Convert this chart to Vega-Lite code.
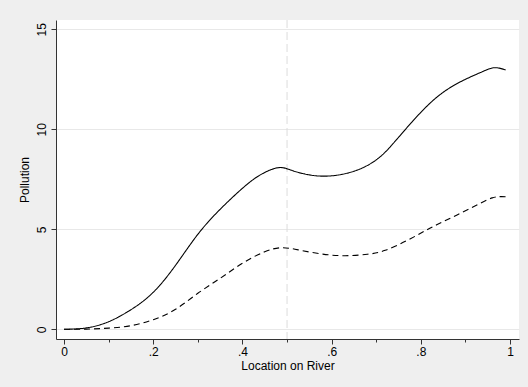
{
  "$schema": "https://vega.github.io/schema/vega-lite/v6.json",
  "width": 463,
  "height": 319,
  "autosize": "none",
  "padding": {"left": 56, "top": 20, "right": 9, "bottom": 48},
  "background": "#efefef",
  "config": {
    "view": {"fill": "white", "stroke": null},
    "font": "Liberation Sans"
  },
  "layer": [
    {
      "data": {"values": [{"x": 0.5}]},
      "mark": {"type": "rule", "color": "#dcdcdc", "strokeDash": [8, 4], "strokeWidth": 1},
      "encoding": {
        "x": {"field": "x", "type": "quantitative", "scale": {"domain": [-0.018, 1.02], "nice": false, "zero": false}}
      }
    },
    {
      "data": {
        "values": [
          {"loc": 0.0, "pollution": 0.0, "series": "upper"},
          {"loc": 0.05, "pollution": 0.07, "series": "upper"},
          {"loc": 0.1, "pollution": 0.38, "series": "upper"},
          {"loc": 0.15, "pollution": 0.98, "series": "upper"},
          {"loc": 0.2, "pollution": 1.85, "series": "upper"},
          {"loc": 0.25, "pollution": 3.2, "series": "upper"},
          {"loc": 0.3, "pollution": 4.75, "series": "upper"},
          {"loc": 0.35, "pollution": 6.0, "series": "upper"},
          {"loc": 0.4, "pollution": 7.05, "series": "upper"},
          {"loc": 0.44, "pollution": 7.72, "series": "upper"},
          {"loc": 0.48, "pollution": 8.08, "series": "upper"},
          {"loc": 0.51, "pollution": 7.95, "series": "upper"},
          {"loc": 0.55, "pollution": 7.72, "series": "upper"},
          {"loc": 0.59, "pollution": 7.66, "series": "upper"},
          {"loc": 0.63, "pollution": 7.78, "series": "upper"},
          {"loc": 0.67, "pollution": 8.08, "series": "upper"},
          {"loc": 0.71, "pollution": 8.65, "series": "upper"},
          {"loc": 0.75, "pollution": 9.6, "series": "upper"},
          {"loc": 0.8, "pollution": 10.85, "series": "upper"},
          {"loc": 0.85, "pollution": 11.85, "series": "upper"},
          {"loc": 0.9, "pollution": 12.5, "series": "upper"},
          {"loc": 0.94, "pollution": 12.9, "series": "upper"},
          {"loc": 0.965, "pollution": 13.08, "series": "upper"},
          {"loc": 0.99, "pollution": 12.97, "series": "upper"},
          {"loc": 0.0, "pollution": 0.0, "series": "lower"},
          {"loc": 0.05, "pollution": 0.01, "series": "lower"},
          {"loc": 0.1, "pollution": 0.06, "series": "lower"},
          {"loc": 0.15, "pollution": 0.18, "series": "lower"},
          {"loc": 0.2, "pollution": 0.48, "series": "lower"},
          {"loc": 0.25, "pollution": 1.0, "series": "lower"},
          {"loc": 0.3, "pollution": 1.8, "series": "lower"},
          {"loc": 0.35, "pollution": 2.55, "series": "lower"},
          {"loc": 0.4, "pollution": 3.3, "series": "lower"},
          {"loc": 0.45, "pollution": 3.88, "series": "lower"},
          {"loc": 0.49, "pollution": 4.08, "series": "lower"},
          {"loc": 0.53, "pollution": 3.95, "series": "lower"},
          {"loc": 0.58, "pollution": 3.76, "series": "lower"},
          {"loc": 0.63, "pollution": 3.68, "series": "lower"},
          {"loc": 0.68, "pollution": 3.75, "series": "lower"},
          {"loc": 0.72, "pollution": 3.95, "series": "lower"},
          {"loc": 0.77, "pollution": 4.45, "series": "lower"},
          {"loc": 0.82, "pollution": 5.05, "series": "lower"},
          {"loc": 0.87, "pollution": 5.6, "series": "lower"},
          {"loc": 0.92, "pollution": 6.15, "series": "lower"},
          {"loc": 0.96, "pollution": 6.57, "series": "lower"},
          {"loc": 0.99, "pollution": 6.63, "series": "lower"}
        ]
      },
      "mark": {"type": "line", "interpolate": "natural", "color": "black", "strokeWidth": 1.1},
      "encoding": {
        "x": {
          "field": "loc",
          "type": "quantitative",
          "scale": {"domain": [-0.018, 1.02], "nice": false, "zero": false},
          "axis": {
            "title": "Location on River",
            "values": [0, 0.1, 0.2, 0.3, 0.4, 0.5, 0.6, 0.7, 0.8, 0.9, 1],
            "labelExpr": "round(datum.value*10)%2==1 ? '' : (datum.value==0 ? '0' : (datum.value>0.999 ? '1' : replace(format(datum.value, '.1f'), '0.', '.')))",
            "labelOverlap": false,
            "labelFlush": false,
            "grid": false,
            "domainColor": "#333333",
            "tickColor": "#333333",
            "tickSize": {"condition": {"test": "round(datum.value*10)%2==1", "value": 3}, "value": 5},
            "labelFontSize": 12,
            "labelColor": "black",
            "labelPadding": 2,
            "titleFontSize": 12,
            "titleFontWeight": "normal",
            "titleColor": "black",
            "titlePadding": 3
          }
        },
        "y": {
          "field": "pollution",
          "type": "quantitative",
          "scale": {"domain": [-0.485, 15.465], "nice": false, "zero": false},
          "axis": {
            "title": "Pollution",
            "values": [0, 5, 10, 15],
            "labelAngle": -90,
            "labelAlign": "center",
            "labelBaseline": "bottom",
            "grid": true,
            "gridColor": "#e8e8e8",
            "domainColor": "#333333",
            "tickColor": "#333333",
            "tickSize": 5,
            "labelFontSize": 12,
            "labelColor": "black",
            "labelPadding": 3,
            "titleFontSize": 12,
            "titleFontWeight": "normal",
            "titleColor": "black",
            "titlePadding": 4
          }
        },
        "strokeDash": {
          "field": "series",
          "type": "nominal",
          "scale": {"domain": ["upper", "lower"], "range": [[1, 0], [6, 4]]},
          "legend": null
        }
      }
    }
  ]
}
